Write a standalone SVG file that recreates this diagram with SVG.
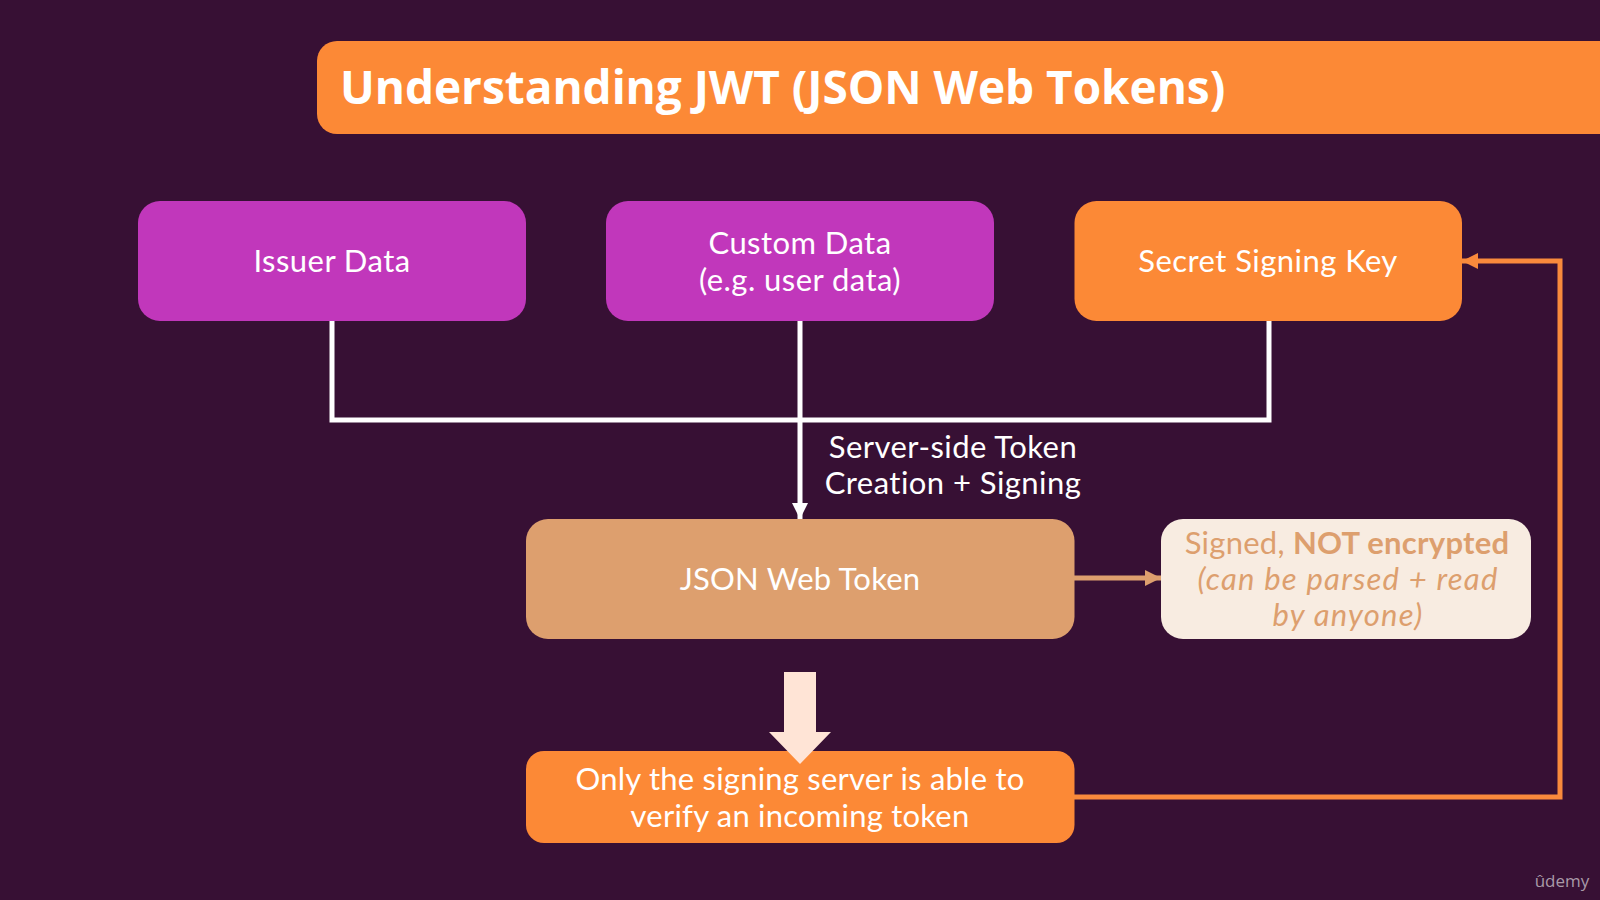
<svg xmlns="http://www.w3.org/2000/svg" width="1600" height="900" viewBox="0 0 1600 900">
<style>
.t{font-family:"Lato","Open Sans","Liberation Sans",sans-serif;font-size:31px;fill:#fff;text-anchor:middle;letter-spacing:.45px}
.n{letter-spacing:.22px}
.s{fill:#dd9f6e;text-anchor:middle;font-family:"Lato","Open Sans","Liberation Sans",sans-serif;font-size:31px;letter-spacing:.25px}
.i{font-style:italic;letter-spacing:1.25px}
.l{fill:none;stroke-linejoin:miter}
</style>
<defs>
<marker id="mw" markerUnits="userSpaceOnUse" markerWidth="18" markerHeight="18" refX="16" refY="9" orient="auto"><path d="M0,1 L16,9 L0,17 Z" fill="#fff"/></marker>
<marker id="mt" markerUnits="userSpaceOnUse" markerWidth="18" markerHeight="18" refX="16" refY="9" orient="auto"><path d="M0,1 L16,9 L0,17 Z" fill="#dd9f6e"/></marker>
<marker id="mo" markerUnits="userSpaceOnUse" markerWidth="18" markerHeight="18" refX="16" refY="9" orient="auto"><path d="M0,1 L16,9 L0,17 Z" fill="#f98a3c"/></marker>
</defs>
<rect width="1600" height="900" fill="#371034"/>
<g id="title"><path d="M1600,41 H337 a20,20 0 0 0 -20,20 V114 a20,20 0 0 0 20,20 H1600 Z" fill="#fc8936"/>
<text x="340" y="104" font-family="'Open Sans','Liberation Sans',sans-serif" font-weight="700" font-size="46" letter-spacing="-0.05" fill="#fff">Understanding JWT (JSON Web Tokens)</text></g>
<g id="connectors">
<path class="l" d="M332,321 V420 H1269 V321" stroke="#fff" stroke-width="5"/>
<path class="l" d="M800,321 V519" stroke="#fff" stroke-width="5" marker-end="url(#mw)"/>
<path class="l" d="M1074,578 H1161" stroke="#dd9f6e" stroke-width="5" marker-end="url(#mt)"/>
<path class="l" d="M1074,797 H1560 V261 H1462" stroke="#f98a3c" stroke-width="5" marker-end="url(#mo)"/>
</g>
<g id="issuer"><rect x="138" y="201" width="388" height="120" rx="22" fill="#c137bb"/><text class="t" x="332" y="272">Issuer Data</text></g>
<g id="custom"><rect x="606" y="201" width="388" height="120" rx="22" fill="#c137bb"/><text class="t" x="800" y="254">Custom Data</text><text class="t" x="800" y="291">(e.g. user data)</text></g>
<g id="secret"><rect x="1074.5" y="201" width="387.5" height="120" rx="22" fill="#fc8936"/><text class="t" x="1268" y="272">Secret Signing Key</text></g>
<g id="label"><text class="t" x="953" y="458">Server-side Token</text><text class="t" x="953" y="494">Creation + Signing</text></g>
<g id="jwt"><rect x="526" y="519" width="548.5" height="120" rx="22" fill="#dd9f6e"/><text class="t n" x="800" y="590">JSON Web Token</text></g>
<g id="note"><rect x="1161" y="519" width="370" height="120" rx="22" fill="#f8ece1"/>
<text class="s" x="1347" y="554">Signed, <tspan font-weight="700">NOT encrypted</tspan></text>
<text class="s i" x="1348" y="590">(can be parsed + read</text>
<text class="s i" x="1348" y="626">by anyone)</text></g>
<g id="verify"><rect x="526" y="751" width="548.5" height="92" rx="18" fill="#fc8936"/><text class="t n" x="800" y="790">Only the signing server is able to</text><text class="t n" x="800" y="827">verify an incoming token</text></g>
<g id="bigarrow"><path d="M784,672 H816 V732 H831 L800,764 L769,732 H784 Z" fill="#ffe4d6"/></g>
<text x="1562" y="887" font-family="'Open Sans','Liberation Sans',sans-serif" font-size="17" fill="#a99aa8" text-anchor="middle">ûdemy</text>
</svg>
